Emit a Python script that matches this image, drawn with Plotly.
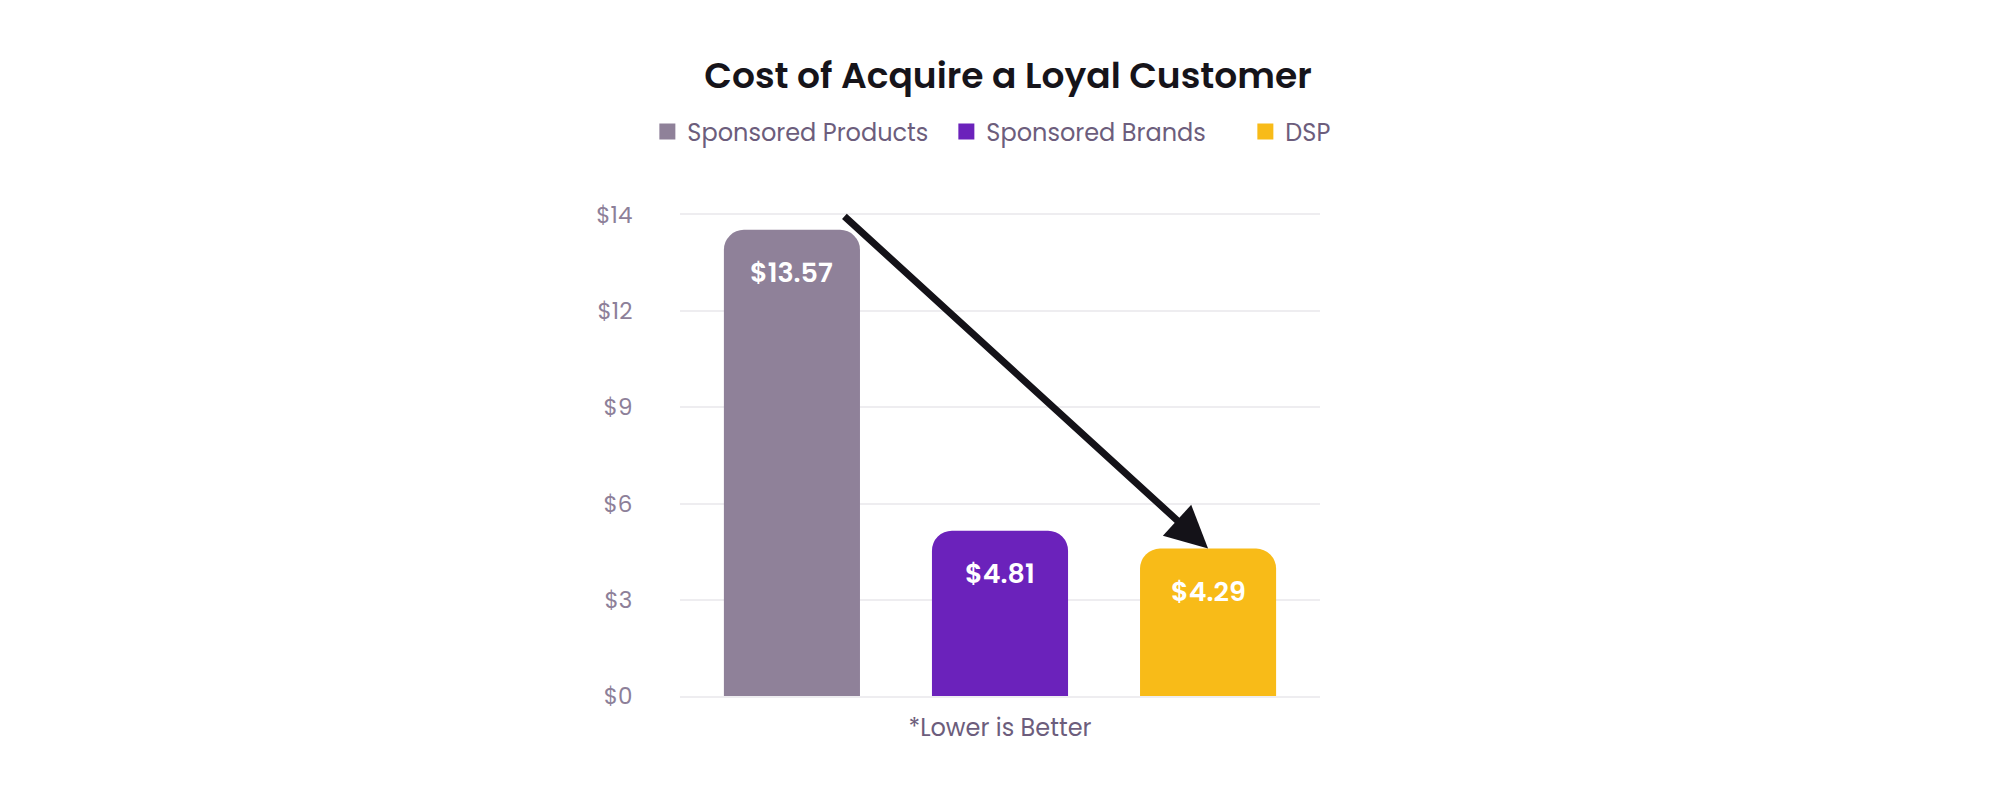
import plotly.graph_objects as go

# data
channels = ["Sponsored Products", "Sponsored Brands", "DSP"]
costs = [13.57, 4.81, 4.29]
bar_colors = ["#8f8199", "#6b22bb", "#f8bb18"]

tick_vals = [0, 2.8, 5.6, 8.4, 11.2, 14]
tick_text = ["$0", "$3", "$6", "$9", "$12", "$14"]
y_max = 14

FONT = "Poppins, Inter, sans-serif"
GRID = "#eeedf0"

fig = go.Figure()

for name, cost, color in zip(channels, costs, bar_colors):
    fig.add_trace(go.Bar(
        x=[name],
        y=[cost],
        width=0.654,
        marker=dict(color=color, line=dict(width=0)),
        showlegend=False,
        hoverinfo="x+y",
    ))
    # legend entry with a bigger square swatch
    fig.add_trace(go.Scatter(
        x=[None], y=[None],
        mode="markers",
        name=name,
        marker=dict(symbol="square", size=16, color=color),
    ))

# value labels just inside the top of each bar
for name, cost in zip(channels, costs):
    fig.add_annotation(
        x=name, y=cost,
        text=f"${cost:.2f}",
        showarrow=False,
        yshift=-43,
        font=dict(family=FONT, size=27, color="white", weight=600),
    )

# the big "goes down" arrow pointing at DSP
fig.add_annotation(
    x=2, y=costs[2],
    ax=0.245, ay=y_max,
    xref="x", yref="y", axref="x", ayref="y",
    text="",
    showarrow=True,
    arrowhead=2,
    arrowsize=1.2,
    arrowwidth=7,
    arrowcolor="#141218",
    standoff=0,
)

# page body has an 8px margin, so pull everything up/left by 8px
fig.update_layout(
    width=2000,
    height=800,
    margin=dict(l=672, r=688, t=207, b=112),
    paper_bgcolor="white",
    plot_bgcolor="white",
    barmode="overlay",
    barcornerradius=20,
    font=dict(family=FONT, color="#6c5d7c"),
    title=dict(
        text="Cost of Acquire a Loyal Customer",
        x=0.5, xanchor="center",
        y=1 - 67 / 800, yanchor="middle",
        font=dict(family=FONT, size=36, color="#16141a", weight=600),
    ),
    # anchored just left of the plot so the legend may run wider than it
    legend=dict(
        orientation="h",
        x=-0.051, xanchor="left",
        y=1.1726, yanchor="middle",
        font=dict(family=FONT, size=24, color="#6c5d7c"),
        itemwidth=30,
        entrywidth=254,
        entrywidthmode="pixels",
        tracegroupgap=0,
    ),
    xaxis=dict(
        range=[-0.538, 2.538],
        showticklabels=False,
        showgrid=False,
        zeroline=False,
        showline=True,
        linecolor=GRID,
        linewidth=2,
        mirror=True,
        title=dict(
            text="*Lower is Better",
            standoff=22,
            font=dict(family=FONT, size=24, color="#6c5d7c"),
        ),
    ),
    yaxis=dict(
        range=[0, y_max],
        tickvals=tick_vals,
        ticktext=tick_text,
        showgrid=True,
        gridcolor=GRID,
        gridwidth=2,
        zeroline=False,
        ticks="outside",
        ticklen=42,
        tickcolor="rgba(0,0,0,0)",
        tickfont=dict(family=FONT, size=23, color="#8d8099"),
    ),
)

fig.write_html("out.html")
